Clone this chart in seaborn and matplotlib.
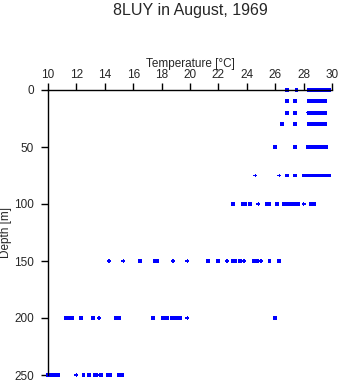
import matplotlib
matplotlib.use("Agg")
import matplotlib.pyplot as plt
import seaborn as sns
import pandas as pd

# ---- data (temperature in °C per sampled depth in m) ----
depths = [0, 10, 20, 30, 50, 75, 100, 150, 200, 250]
temps_0 = [26.8, 27.5, 28.4, 28.5, 28.6, 28.7, 28.8, 28.9, 29.0, 29.1, 29.2, 29.3, 29.4, 29.5, 29.8]
temps_10 = [26.8, 27.4, 28.4, 28.5, 28.6, 28.7, 28.8, 28.9, 29.0, 29.1, 29.2, 29.3, 29.4, 29.5]
temps_20 = [26.8, 27.4, 28.3, 28.4, 28.5, 28.6, 28.7, 28.8, 28.9, 29.0, 29.1, 29.2, 29.3, 29.4, 29.5]
temps_30 = [26.5, 27.4, 28.4, 28.5, 28.6, 28.7, 28.8, 28.9, 29.0, 29.1, 29.2, 29.3, 29.4, 29.5]
temps_50 = [26.0, 27.4, 28.3, 28.4, 28.6, 28.7, 28.8, 28.9, 29.0, 29.1, 29.2, 29.4, 29.6]
temps_75 = [24.6, 26.3, 26.8, 27.4, 28.0, 28.2, 28.4, 28.6, 28.7, 28.9, 29.1, 29.3, 29.5, 29.7, 29.8]
temps_100 = [23.0, 23.7, 23.9, 24.2, 24.8, 25.4, 25.6, 26.1, 26.6, 26.8, 27.0, 27.2, 27.4, 27.6, 28.0, 28.5, 28.7]
temps_150 = [14.3, 15.3, 16.5, 17.5, 17.7, 18.8, 19.8, 21.3, 22.0, 22.6, 23.0, 23.2, 23.5, 23.8, 24.5, 24.7, 25.0, 25.6, 26.3]
temps_200 = [11.3, 11.5, 11.7, 12.3, 13.2, 13.6, 14.8, 15.0, 17.4, 18.1, 18.4, 18.7, 19.0, 19.3, 19.8, 26.0]
temps_250 = [10.0, 10.3, 10.5, 10.7, 12.0, 12.5, 12.9, 13.3, 13.5, 13.7, 14.2, 14.4, 15.0, 15.2]
# readings drawn with a "+" marker instead of a square
plus_points = {(28.3, 20), (24.6, 75), (26.3, 75), (28.9, 75), (29.3, 75), (29.7, 75),
               (24.8, 100), (28.0, 100),
               (14.3, 150), (15.3, 150), (18.8, 150), (19.8, 150), (22.6, 150), (23.8, 150), (25.0, 150),
               (13.6, 200), (19.8, 200),
               (12.0, 250), (13.5, 250)}

title = "8LUY in August, 1969"
xlabel = "Temperature [\u00b0C]"
ylabel = "Depth [m]"
xticks = [10, 12, 14, 16, 18, 20, 22, 24, 26, 28, 30]
yticks = [0, 50, 100, 150, 200, 250]

all_temps = [temps_0, temps_10, temps_20, temps_30, temps_50, temps_75,
             temps_100, temps_150, temps_200, temps_250]
rows = []
for d, ts in zip(depths, all_temps):
    for t in ts:
        rows.append({"temp": t, "depth": d,
                     "kind": "plus" if (t, d) in plus_points else "square"})
df = pd.DataFrame(rows)

sns.set_style("white")
plt.rcParams["font.family"] = ["Liberation Sans", "DejaVu Sans"]

fig = plt.figure(figsize=(3.41, 3.84), dpi=100)
ax = fig.add_axes([48 / 341, 1 - 375 / 384, (332 - 48) / 341, (375 - 90) / 384])

sns.scatterplot(data=df, x="temp", y="depth", style="kind",
                markers={"square": "s", "plus": "P"}, color="#0000ff",
                s=8, linewidth=0, legend=False, ax=ax, clip_on=False)

ax.set_xlim(10, 30)
ax.set_ylim(250, 0)
ax.xaxis.tick_top()
ax.xaxis.set_label_position("top")
ax.set_xticks(xticks)
ax.set_yticks(yticks)
ax.tick_params(axis="both", direction="out", length=5, width=1, color="black",
               labelsize=8.5, top=True, bottom=False, left=True)
ax.tick_params(axis="x", pad=1.5)
ax.tick_params(axis="y", pad=5)
ax.set_xlabel(xlabel, fontsize=8.5, labelpad=1.5)
ax.set_ylabel(ylabel, fontsize=8.5)
ax.yaxis.set_label_coords(-12 / 284 * 3, 0.5)
for side in ["right", "bottom"]:
    ax.spines[side].set_visible(False)
for side in ["top", "left"]:
    ax.spines[side].set_color("black")
    ax.spines[side].set_linewidth(1)
ax.set_facecolor("white")
ax.grid(False)

fig.text(190 / 341, 1 - 11 / 384, title, ha="center", va="center", fontsize=11.5)

fig.savefig("out.png", dpi=100, facecolor="white")
